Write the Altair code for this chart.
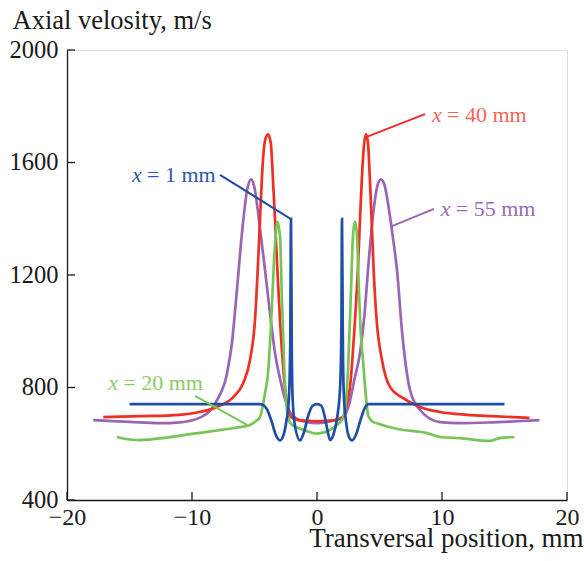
import altair as alt
import pandas as pd

# ---- data ----
blue_x = [-15, -4.6, -4.3, -4.0, -3.6, -3.3, -2.96, -2.7, -2.45, -2.25, -2.14, -2.08, -2.02, -1.95, -1.75, -1.36, -1.05, -0.7, -0.35, 0,
          0.35, 0.65, 0.85, 1.05, 1.3, 1.6, 1.85, 1.95, 2.0, 2.06, 2.15, 2.35, 2.55, 2.8, 3.1, 3.45, 3.8, 4.1, 4.4, 15]
blue_y = [741, 741, 738, 722, 675, 632, 612, 628, 680, 760, 950, 1400, 950, 760, 660, 612, 640, 700, 735, 741,
          735, 690, 645, 613, 630, 690, 800, 1000, 1400, 1000, 770, 670, 625, 612, 630, 680, 725, 741, 741, 741]

green_x = [-16.0, -15.3, -14.2, -12, -10, -8, -6.5, -5.36, -4.9, -4.56, -4.16, -3.9, -3.65, -3.4, -3.17, -2.95, -2.8, -2.62, -2.45, -2.28, -2.1, -1.7, -1.0, 0,
           1.0, 1.6, 1.9, 2.1, 2.3, 2.5, 2.7, 2.88, 3.04, 3.2, 3.35, 3.52, 3.68, 3.85, 4.1, 4.4, 4.8, 6.1, 6.9, 8.8, 9.84, 11.4, 13.8, 14.6, 15.8]
green_y = [624, 617, 613, 622, 635, 647, 657, 667, 680, 695, 780, 860, 1050, 1280, 1390, 1330, 1100, 870, 740, 690, 672, 660, 648, 636,
           648, 667, 680, 695, 740, 880, 1120, 1340, 1390, 1340, 1150, 980, 898, 800, 700, 680, 673, 656, 649, 638, 624, 620, 610, 620, 624]

red_x = [-17.1, -14, -11, -9.4, -8.0, -6.7, -5.9, -5.36, -4.96, -4.75, -4.56, -4.35, -4.15, -3.92, -3.7, -3.5, -3.36, -3.15, -2.96, -2.56, -2.3, -2.1, -1.5, 0,
         1.5, 2.1, 2.35, 2.64, 3.04, 3.25, 3.44, 3.62, 3.78, 3.92, 4.08, 4.22, 4.37, 4.55, 4.77, 5.2, 5.84, 6.9, 8.24, 9.84, 12, 14, 17.0]
red_y = [695, 698, 703, 713, 731, 766, 816, 898, 1040, 1210, 1396, 1590, 1680, 1700, 1670, 1520, 1396, 1200, 1040, 800, 720, 695, 684, 680,
         684, 695, 735, 802, 1040, 1200, 1396, 1570, 1670, 1700, 1670, 1550, 1396, 1200, 1040, 898, 802, 762, 731, 713, 703, 698, 692]

purple_x = [-17.9, -15, -12.6, -11, -9.4, -8.0, -7.2, -6.8, -6.4, -6.0, -5.6, -5.28, -5.0, -4.6, -4.16, -3.8, -3.36, -2.9, -2.56, -2.2, -1.6, -0.8, 0,
            0.8, 1.6, 2.2, 2.6, 3.0, 3.44, 3.8, 4.08, 4.5, 4.85, 5.12, 5.4, 5.8, 6.05, 6.4, 6.8, 7.44, 8.24, 9.84, 11.4, 14, 16, 17.8]
purple_y = [684, 678, 673, 676, 692, 755, 850, 960, 1150, 1350, 1500, 1540, 1510, 1380, 1218, 1080, 923, 820, 760, 715, 688, 677, 673,
            677, 686, 700, 745, 830, 923, 1060, 1218, 1420, 1520, 1540, 1520, 1420, 1340, 1218, 1000, 791, 720, 677, 673, 676, 680, 684]

series_names = ["x = 55 mm", "x = 40 mm", "x = 20 mm", "x = 1 mm"]
series_colors = ["#9a65b6", "#ee2f24", "#77c556", "#1f4ea6"]
label_colors = ["#9a6ab4", "#f2675c", "#8acb68", "#2c5aaa"]

# annotation labels: text anchor (left, vertical middle) and leader lines, in data units
label_rest = ["= 55 mm", "= 40 mm", "= 20 mm", "= 1 mm"]
label_x = [9.9, 9.2, -16.7, -14.8]
label_y = [1435, 1769, 816, 1556]
leader_x1 = [9.36, 8.64, -9.76, -7.76]
leader_y1 = [1435, 1772, 770, 1556]
leader_x2 = [6.0, 3.92, -5.6, -2.08]
leader_y2 = [1374, 1690, 667, 1399]

x_ticks = [-20, -10, 0, 10, 20]
y_ticks = [400, 800, 1200, 1600, 2000]

# ---- tables ----
rows = []
for name, xs, ys in [("x = 55 mm", purple_x, purple_y), ("x = 40 mm", red_x, red_y),
                     ("x = 20 mm", green_x, green_y), ("x = 1 mm", blue_x, blue_y)]:
    for i, (a, b) in enumerate(zip(xs, ys)):
        rows.append({"series": name, "pos": a, "vel": b, "order": i})
df = pd.DataFrame(rows)

ann = pd.DataFrame({"series": series_names, "rest": label_rest, "lx": label_x, "ly": label_y,
                    "x1": leader_x1, "y1": leader_y1, "x2": leader_x2, "y2": leader_y2,
                    "italic": ["x"] * 4})
xt = pd.DataFrame({"v": x_ticks})
yt = pd.DataFrame({"v": y_ticks})

FONT = "Liberation Serif"
xscale = alt.Scale(domain=[-20, 20], nice=False, zero=False)
yscale = alt.Scale(domain=[400, 2000], nice=False, zero=False)
color = alt.Scale(domain=series_names, range=series_colors)
lcolor = alt.Scale(domain=series_names, range=label_colors)

x_axis = alt.Axis(values=x_ticks, format="d", ticks=False, grid=False, labelFont=FONT, labelFontSize=24,
                  labelFlush=False, labelOverlap=False,
                  labelColor="#1a1a1a", labelPadding=5, domainColor="#1a1a1a", domainWidth=1.3,
                  title="Transversal position, mm", titleFont=FONT, titleFontSize=27,
                  titleFontWeight="normal", titleColor="#1a1a1a", titleAlign="right",
                  titleBaseline="alphabetic", titleX=516, titleY=46)
y_axis = alt.Axis(values=y_ticks, format="d", ticks=False, grid=False, labelFont=FONT, labelFontSize=24.5,
                  labelFlush=False, labelOverlap=False,
                  labelColor="#1a1a1a", labelPadding=9, domainColor="#1a1a1a", domainWidth=1.3,
                  title="Axial velosity, m/s", titleFont=FONT, titleFontSize=26.5,
                  titleFontWeight="normal", titleColor="#1a1a1a", titleAngle=0, titleAlign="left",
                  titleBaseline="alphabetic", titleX=-55, titleY=-22)

lines = alt.Chart(df).mark_line(strokeWidth=2.7, interpolate="monotone").encode(
    x=alt.X("pos:Q", scale=xscale, axis=x_axis),
    y=alt.Y("vel:Q", scale=yscale, axis=y_axis),
    color=alt.Color("series:N", scale=color, legend=None),
    detail="series:N",
    order="order:Q",
)

leaders = alt.Chart(ann).mark_rule(strokeWidth=2).encode(
    x=alt.X("x1:Q", scale=xscale), y=alt.Y("y1:Q", scale=yscale),
    x2="x2:Q", y2="y2:Q",
    color=alt.Color("series:N", scale=color, legend=None),
)

lab_x = alt.Chart(ann).mark_text(font=FONT, fontSize=22, fontStyle="italic", align="left",
                                 baseline="middle").encode(
    x=alt.X("lx:Q", scale=xscale), y=alt.Y("ly:Q", scale=yscale), text="italic:N",
    color=alt.Color("series:N", scale=lcolor, legend=None),
)
lab_rest = alt.Chart(ann).mark_text(font=FONT, fontSize=22, align="left", baseline="middle",
                                    dx=15).encode(
    x=alt.X("lx:Q", scale=xscale), y=alt.Y("ly:Q", scale=yscale), text="rest:N",
    color=alt.Color("series:N", scale=lcolor, legend=None),
)

xticks = alt.Chart(xt).mark_rule(color="#1a1a1a", strokeWidth=1.3).encode(
    x=alt.X("v:Q", scale=xscale), y=alt.value(450), y2=alt.value(442))
yticks = alt.Chart(yt).mark_rule(color="#1a1a1a", strokeWidth=1.3).encode(
    y=alt.Y("v:Q", scale=yscale), x=alt.value(0), x2=alt.value(8))

chart = alt.layer(lines, leaders, lab_x, lab_rest, xticks, yticks).resolve_scale(
    color="independent"
).properties(
    width=500, height=450,
    autosize=alt.AutoSizeParams(type="none"),
    padding={"left": 67, "top": 50, "right": 17, "bottom": 61},
).configure_view(stroke=None).configure(background="white")

chart.save("out.html", embed_options={"renderer": "svg", "actions": False})
